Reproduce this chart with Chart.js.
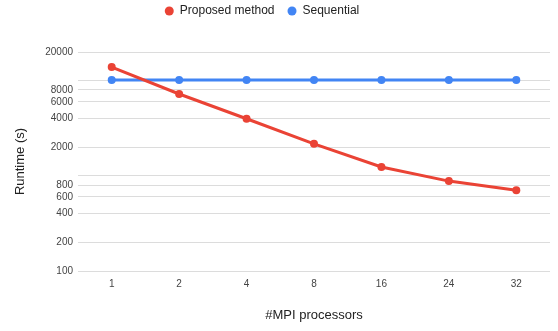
<!DOCTYPE html>
<html>
<head>
<meta charset="utf-8">
<script src="https://cdn.jsdelivr.net/npm/chart.js@4"></script>
<style>
  html, body { margin: 0; padding: 0; background: #fff; }
  #wrap { width: 558px; height: 331px; }
</style>
</head>
<body>
<div id="wrap"><canvas id="chart"></canvas></div>
<script>
const processors = ["1", "2", "4", "8", "16", "24", "32"];
const proposedRuntime = [13900, 7240, 3980, 2170, 1240, 880, 705];
const sequentialRuntime = [10150, 10150, 10150, 10150, 10150, 10150, 10150];
const yGridValues = [100, 200, 400, 600, 800, 1000, 2000, 4000, 6000, 8000, 10000, 20000];
const yLabelValues = [100, 200, 400, 600, 800, 2000, 4000, 6000, 8000, 20000];

const RED = "#ea4335";
const BLUE = "#4285f4";
const FONT = "'Liberation Sans', Arial, sans-serif";

// legend: reserve space down to the plot top, move it up and a bit left
const legendTweak = {
  id: "legendTweak",
  beforeInit(chart) {
    const fit = chart.legend.fit;
    chart.legend.fit = function () {
      fit.bind(chart.legend)();
      this.height = 52;
    };
  },
  afterLayout(chart) {
    chart.legend.left -= 13;
    chart.legend.right -= 13;
    chart.legend.top -= 8;
  },
};

const ctx = document.getElementById("chart").getContext("2d");
new Chart(ctx, {
  type: "line",
  data: {
    labels: processors,
    datasets: [
      {
        label: "Proposed method",
        data: proposedRuntime,
        borderColor: RED,
        backgroundColor: RED,
        borderWidth: 3,
        pointRadius: 4,
        pointBorderWidth: 0,
        pointHoverRadius: 4,
        tension: 0,
      },
      {
        label: "Sequential",
        data: sequentialRuntime,
        borderColor: BLUE,
        backgroundColor: BLUE,
        borderWidth: 3,
        pointRadius: 4,
        pointBorderWidth: 0,
        pointHoverRadius: 4,
        tension: 0,
      },
    ],
  },
  plugins: [legendTweak],
  options: {
    responsive: true,
    maintainAspectRatio: false,
    animation: false,
    layout: { padding: { left: 0, right: 8, top: 0, bottom: 0 } },
    plugins: {
      legend: {
        position: "top",
        labels: {
          usePointStyle: true,
          pointStyle: "circle",
          pointStyleWidth: 9,
          boxHeight: 6.4,
          padding: 13,
          color: "#222",
          font: { family: FONT, size: 12 },
          generateLabels: (chart) =>
            Chart.defaults.plugins.legend.labels
              .generateLabels(chart)
              .map((item) => ({ ...item, lineWidth: 0 })),
        },
      },
      tooltip: { enabled: false },
    },
    scales: {
      x: {
        type: "category",
        offset: true,
        grid: { display: false, drawTicks: false },
        border: { display: false },
        ticks: {
          color: "#444",
          padding: 7,
          font: { family: FONT, size: 10 },
        },
        title: {
          display: true,
          text: "#MPI processors",
          color: "#222",
          font: { family: FONT, size: 13 },
          padding: { top: 4, bottom: 8 },
        },
        afterFit: (scale) => {
          scale.height = 60;
        },
      },
      y: {
        type: "logarithmic",
        min: 100,
        max: 20000,
        grid: { color: "#dcdcdc", lineWidth: 1, drawTicks: false },
        border: { display: false },
        afterBuildTicks: (scale) => {
          scale.ticks = yGridValues.map((v) => ({ value: v }));
        },
        ticks: {
          autoSkip: false,
          color: "#444",
          padding: 5,
          font: { family: FONT, size: 10 },
          callback: (val) => (yLabelValues.includes(val) ? String(val) : ""),
        },
        title: {
          display: true,
          text: "Runtime (s)",
          color: "#222",
          font: { family: FONT, size: 13 },
          padding: { top: 13, bottom: 0 },
        },
        afterFit: (scale) => {
          scale.width = 78;
        },
      },
    },
  },
});
</script>
</body>
</html>
